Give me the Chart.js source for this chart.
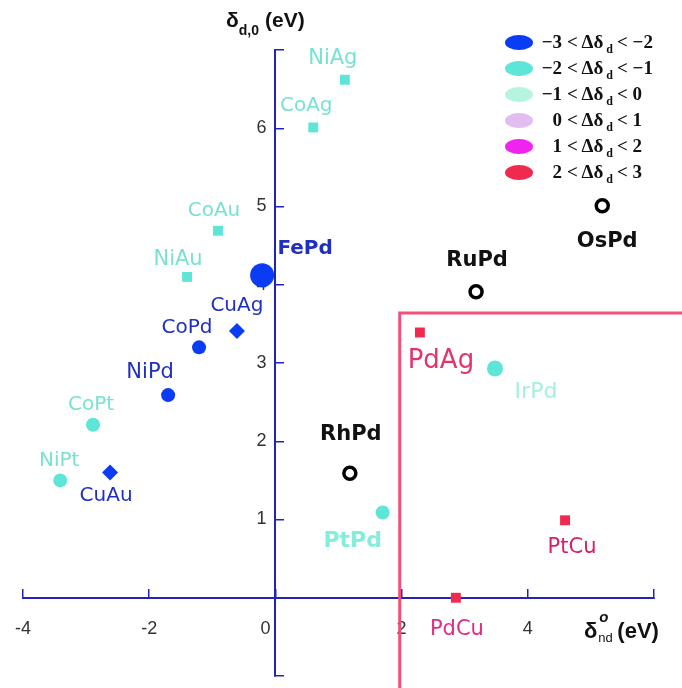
<!DOCTYPE html>
<html>
<head>
<meta charset="utf-8">
<script src="https://cdn.jsdelivr.net/npm/chart.js@4/dist/chart.umd.min.js"></script>
<style>
body{margin:0;background:#fff}
#wrap{position:relative;width:682px;height:688px}
#legend{position:absolute;left:505px;top:29px;font:bold 19px 'Liberation Serif',serif;color:#111}
.row{height:26px;display:flex;align-items:center;white-space:nowrap}
.dot{width:28px;height:15px;border-radius:50%;margin-right:4px;flex:none}
.lo{display:inline-block;width:25px;text-align:right;margin-right:5px}
.row sub{font-size:12px;position:relative;top:7px;vertical-align:baseline;margin:0 4px 0 3px}
#ytitle{position:absolute;left:226px;top:8px;font:bold 21px 'Liberation Sans',sans-serif;color:#111;white-space:nowrap}
#ytitle sub{font-size:14px;vertical-align:baseline;position:relative;top:8px;margin-right:6px}
#xtitle{position:absolute;left:584px;top:614px;font:bold 22px 'Liberation Sans',sans-serif;color:#111;white-space:nowrap}
#xtitle .st{display:inline-block;position:relative;width:20px;height:30px;vertical-align:-6px}
#xtitle .st i{position:absolute;left:2px;top:-6px;font-size:15px}
#xtitle .st span{position:absolute;left:1px;top:16px;font-size:13px;font-weight:normal}
</style>
</head>
<body>
<div id="wrap">
  <canvas id="c" width="682" height="688"></canvas>
  <div id="ytitle">δ<sub>d,0</sub>(eV)</div>
  <div id="xtitle">δ<span class="st"><i>o</i><span>nd</span></span>(eV)</div>
  <div id="legend"></div>
</div>
<script>
// alloy pairs
const alloys   = ['NiAg','CoAg','CoAu','NiAu','FePd','CuAg','CoPd','NiPd','CoPt','NiPt','CuAu','RhPd','PtPd','RuPd','OsPd','PdAg','IrPd','PtCu','PdCu'];
const deltaNd0 = [1.10, 0.60, -0.91, -1.40, -0.21, -0.61, -1.21, -1.70, -2.89, -3.41, -2.62, 1.18, 1.70, 3.18, 5.18, 2.29, 3.48, 4.59, 2.86];
const deltaD0  = [6.62, 6.01, 4.69, 4.10, 4.12, 3.41, 3.20, 2.59, 2.21, 1.50, 1.60, 1.59, 1.09, 3.91, 5.01, 3.39, 2.93, 0.99, 0.00];
// index into shiftRanges, -1 = not classified (open black circle)
const shiftClass = [1, 1, 1, 1, 0, 0, 0, 0, 1, 1, 0, -1, 1, -1, -1, 5, 1, 5, 5];
const shiftRanges = [[-3,-2],[-2,-1],[-1,0],[0,1],[1,2],[2,3]];

// red region boundary
const boxX = [1.97, 1.97, 7];
const boxY = [-1.5, 3.64, 3.64];

const xTicks = {min:-4, max:6, step:2};
const yTicks = {min:-1, max:7, step:1};

// styles
const rangeColors = ['#0a3cf5','#5de6d8','#b6f4e2','#e2bdf2','#f024ee','#f2294f'];
const axisBlue = '#2424b4';
const shapes = {NiAg:'rect',CoAg:'rect',CoAu:'rect',NiAu:'rect',CuAg:'rectRot',CuAu:'rectRot',PdAg:'rect',PtCu:'rect',PdCu:'rect'};
const radii = {FePd:12, CuAg:8, CuAu:8, IrPd:8};
const teal = '#78e2d2', blue = '#1f30c0', black = '#111', pink = '#e2356c';
const labelStyle = {
  NiAg:{dx:-12,dy:-21,c:teal,f:'21px'}, CoAg:{dx:-7,dy:-22,c:teal,f:'20px'},
  CoAu:{dx:-4,dy:-20,c:teal,f:'20px'}, NiAu:{dx:-9,dy:-17,c:teal,f:'21px'},
  FePd:{dx:43,dy:-27,c:blue,f:'bold 20px'}, CuAg:{dx:0,dy:-25,c:blue,f:'20px'},
  CoPd:{dx:-12,dy:-20,c:blue,f:'20px'}, NiPd:{dx:-18,dy:-23,c:blue,f:'21px'},
  CoPt:{dx:-2,dy:-20,c:teal,f:'20px'}, NiPt:{dx:-1,dy:-20,c:teal,f:'20px'},
  CuAu:{dx:-4,dy:23,c:blue,f:'20px'}, RhPd:{dx:1,dy:-39,c:black,f:'bold 21px'},
  PtPd:{dx:-30,dy:29,c:'#86ecdc',f:'bold 22px'}, RuPd:{dx:1,dy:-31,c:black,f:'bold 21px'},
  OsPd:{dx:5,dy:36,c:black,f:'bold 21px'}, PdAg:{dx:21,dy:29,c:pink,f:'26px'},
  IrPd:{dx:41,dy:24,c:'#a4efe2',f:'22px'}, PtCu:{dx:7,dy:27,c:'#d8206a',f:'21px'},
  PdCu:{dx:1,dy:32,c:'#e22c82',f:'21px'}
};

function groupDataset(cls){
  const idx = alloys.map((a,i)=>i).filter(i=>shiftClass[i]===cls);
  const names = idx.map(i=>alloys[i]);
  const open = cls<0;
  return {
    names,
    data: idx.map(i=>({x:deltaNd0[i], y:deltaD0[i]})),
    pointStyle: names.map(n=>shapes[n]||'circle'),
    pointRadius: names.map(n=>radii[n]||(open?6:7)),
    backgroundColor: open ? '#fff' : rangeColors[cls],
    borderColor: open ? '#000' : rangeColors[cls],
    borderWidth: open ? 3.5 : 0,
    order: 1
  };
}

const datasets = [
  {type:'line', data:boxX.map((x,i)=>({x, y:boxY[i]})), borderColor:'#f0507a', borderWidth:3,
   pointRadius:0, clip:false, order:10},
  groupDataset(-1), groupDataset(5), groupDataset(1), groupDataset(0)
];

const pointLabels = {
  id:'pointLabels',
  afterDatasetsDraw(chart){
    const c = chart.ctx;
    chart.data.datasets.forEach((ds,i)=>{
      if(!ds.names) return;
      chart.getDatasetMeta(i).data.forEach((pt,j)=>{
        const s = labelStyle[ds.names[j]];
        c.save();
        c.font = s.f + " 'DejaVu Sans', sans-serif";
        c.fillStyle = s.c;
        c.textAlign = 'center';
        c.textBaseline = 'middle';
        c.fillText(ds.names[j], pt.x + s.dx, pt.y + s.dy);
        c.restore();
      });
    });
  }
};

// axes sit inside the plot (at x=0 / y=0), so they should not eat layout space
function noSpace(scale){
  if(scale.isHorizontal()) scale.height = 0; else scale.width = 0;
  scale.paddingLeft = scale.paddingRight = scale.paddingTop = scale.paddingBottom = 0;
}

const tickFont = {family:"'Liberation Sans', sans-serif", size:18};

new Chart(document.getElementById('c'), {
  type:'scatter',
  data:{datasets},
  options:{
    responsive:false, animation:false, devicePixelRatio:1,
    layout:{padding:{left:23, top:50, right:28, bottom:4}},
    plugins:{legend:{display:false}, tooltip:{enabled:false}},
    scales:{
      x:{type:'linear', min:xTicks.min, max:xTicks.max, position:{y:0}, afterFit:noSpace,
         border:{color:axisBlue, width:2},
         grid:{drawOnChartArea:false, tickLength:-10, color:axisBlue, lineWidth:1.5},
         ticks:{stepSize:xTicks.step, padding:30, color:'#333', font:tickFont,
                callback:v => v > 4 ? '' : (v === 0 ? '0\u2007\u2007' : String(v))}},
      y:{type:'linear', min:yTicks.min, max:yTicks.max, position:{x:0}, afterFit:noSpace,
         border:{color:axisBlue, width:2},
         grid:{drawOnChartArea:false, tickLength:-10, color:axisBlue, lineWidth:1.5},
         ticks:{stepSize:yTicks.step, padding:24, color:'#333', font:tickFont,
                callback:v => (v >= 1 && v <= 6) ? v + '\u2002' : ''}}
    }
  },
  plugins:[pointLabels]
});

// legend (html so the subscript d can sit under the delta)
const leg = document.getElementById('legend');
shiftRanges.forEach((r,i)=>{
  const row = document.createElement('div');
  row.className = 'row';
  const f = v => v < 0 ? '\u2212' + (-v) : String(v);
  row.innerHTML = `<span class="dot" style="background:${rangeColors[i]}"></span><span class="lo">${f(r[0])}</span>&lt; Δδ<sub>d</sub>&lt; ${f(r[1])}`;
  leg.appendChild(row);
});
</script>
</body>
</html>
